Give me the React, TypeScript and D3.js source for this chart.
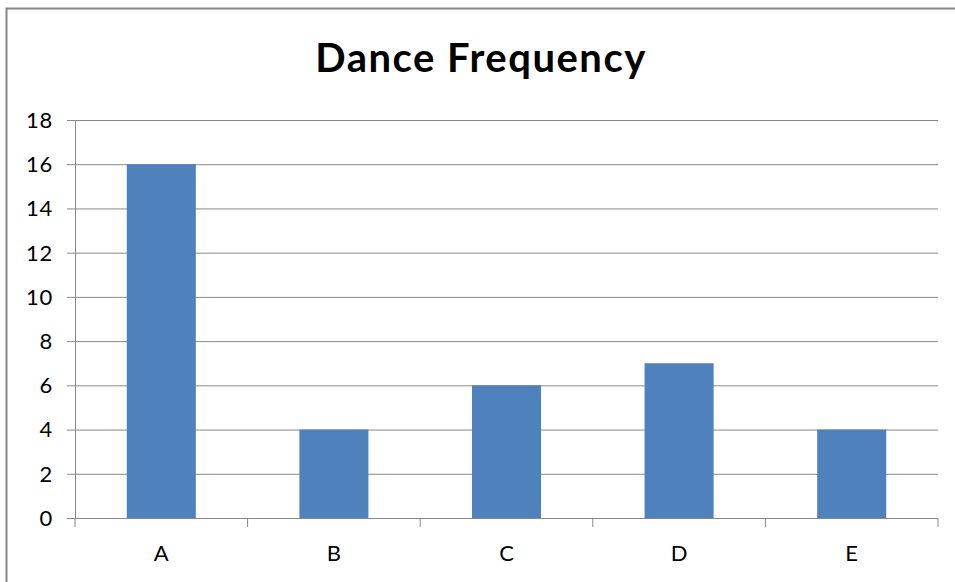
import React from "react";
import * as d3 from "d3";

const categories = ["A", "B", "C", "D", "E"];
const values = [16, 4, 6, 7, 4];
const yTicks = [0, 2, 4, 6, 8, 10, 12, 14, 16, 18];
const title = "Dance Frequency";

export default function App() {
  const W = 955, H = 582;
  const left = 75, right = 938, top = 120, bottom = 518;
  const x = d3.scaleBand<string>().domain(categories).range([left, right]).paddingInner(0.6).paddingOuter(0.3);
  const y = d3.scaleLinear().domain([0, 18]).range([bottom, top]);
  const step = (right - left) / categories.length;
  const bounds = d3.range(categories.length + 1).map((i) => left + i * step);
  const font = "Lato, 'Open Sans', sans-serif";
  return (
    <svg width={W} height={H} style={{ position: "absolute", left: 0, top: 0, background: "#fff" }}>
      <rect x={6.5} y={8.5} width={W + 10} height={H + 10} fill="#fff" stroke="#868686" strokeWidth={2} />
      <text x={481} y={72} textAnchor="middle" fontFamily={font} fontWeight="bold" fontSize={40} letterSpacing={1.5} fill="#000">{title}</text>
      {yTicks.map((t) => (
        <g key={t}>
          <line x1={67} x2={right} y1={y(t) + 0.5} y2={y(t) + 0.5} stroke="#888" strokeWidth={1} />
          <text x={53} y={y(t)} dy="0.36em" textAnchor="end" fontFamily={font} fontSize={22} letterSpacing={0.8} fill="#000">{t}</text>
        </g>
      ))}
      <line x1={left + 0.5} x2={left + 0.5} y1={top} y2={bottom} stroke="#888" strokeWidth={1} />
      {bounds.map((b, i) => (
        <line key={i} x1={b} x2={b} y1={bottom} y2={bottom + 9} stroke="#888" strokeWidth={1} />
      ))}
      {categories.map((c, i) => (
        <rect key={c} x={x(c)!} y={y(values[i])} width={x.bandwidth()} height={y(0) - y(values[i])} fill="#4F81BD" />
      ))}
      {categories.map((c) => (
        <text key={c} x={x(c)! + x.bandwidth() / 2} y={561} textAnchor="middle" fontFamily={font} fontSize={22} fill="#000">{c}</text>
      ))}
    </svg>
  );
}
